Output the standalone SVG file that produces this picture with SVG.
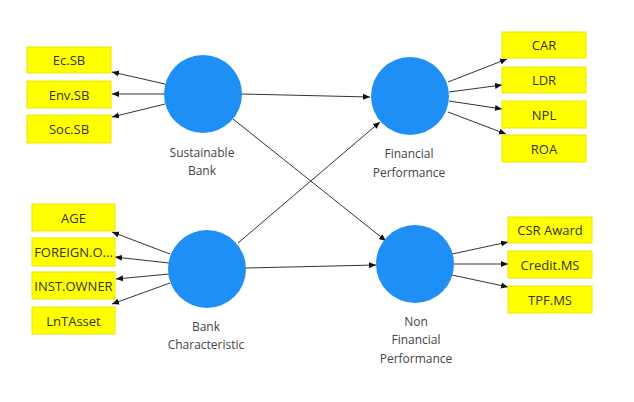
<svg xmlns="http://www.w3.org/2000/svg" width="634" height="402" viewBox="0 0 634 402">
<style>
.box{fill:#FFFF00;stroke:#E8E800;stroke-width:1}
.lv{fill:#1E8FF5}
.bt{font-family:"Open Sans","Noto Sans",sans-serif;font-size:13px;fill:#333;text-anchor:middle;dominant-baseline:central}
.lb{font-family:"Open Sans","Noto Sans",sans-serif;font-size:12px;fill:#444;text-anchor:middle;dominant-baseline:central}
.cn{stroke:#333;stroke-width:1;fill:none;marker-end:url(#ah)}
</style>
<defs>
<marker id="ah" markerWidth="8" markerHeight="8" refX="7" refY="4" orient="auto" markerUnits="userSpaceOnUse">
<path d="M0,1 L7,4 L0,7 Z" fill="#111"/>
</marker>
</defs>
<rect width="634" height="402" fill="#fff"/>
<g id="connectors">
<line class="cn" x1="165" y1="84" x2="112" y2="72"/>
<line class="cn" x1="164" y1="94" x2="112" y2="94"/>
<line class="cn" x1="165" y1="104" x2="112" y2="117"/>
<line class="cn" x1="170" y1="254" x2="112" y2="232"/>
<line class="cn" x1="169" y1="263" x2="115" y2="257"/>
<line class="cn" x1="169" y1="274" x2="116" y2="279"/>
<line class="cn" x1="170" y1="283" x2="112" y2="304"/>
<line class="cn" x1="242" y1="94" x2="370" y2="97"/>
<line class="cn" x1="233" y1="119" x2="386" y2="241"/>
<line class="cn" x1="238" y1="243" x2="380" y2="122"/>
<line class="cn" x1="246" y1="268" x2="376" y2="265"/>
<line class="cn" x1="448" y1="82" x2="507" y2="59"/>
<line class="cn" x1="449" y1="92" x2="502" y2="85"/>
<line class="cn" x1="449" y1="101" x2="502" y2="109"/>
<line class="cn" x1="448" y1="112" x2="506" y2="134"/>
<line class="cn" x1="452" y1="254" x2="508" y2="242"/>
<line class="cn" x1="454" y1="264" x2="508" y2="264"/>
<line class="cn" x1="452" y1="275" x2="508" y2="287"/>
</g>
<g id="sustainable-bank">
<circle class="lv" cx="203" cy="94" r="39"/>
<text class="lb" x="202" y="152">Sustainable</text>
<text class="lb" x="202" y="170">Bank</text>
</g>
<g id="bank-characteristic">
<circle class="lv" cx="207" cy="269" r="39"/>
<text class="lb" x="206" y="326">Bank</text>
<text class="lb" x="206" y="344">Characteristic</text>
</g>
<g id="financial-performance">
<circle class="lv" cx="410" cy="96" r="39"/>
<text class="lb" x="409" y="153">Financial</text>
<text class="lb" x="409" y="172">Performance</text>
</g>
<g id="non-financial-performance">
<circle class="lv" cx="415" cy="264" r="39"/>
<text class="lb" x="416" y="321">Non</text>
<text class="lb" x="416" y="339">Financial</text>
<text class="lb" x="416" y="358">Performance</text>
</g>
<g id="ec-sb"><rect class="box" x="27" y="47" width="84" height="26"/><text class="bt" x="69" y="60">Ec.SB</text></g>
<g id="env-sb"><rect class="box" x="27" y="81" width="84" height="27"/><text class="bt" x="69" y="94.5">Env.SB</text></g>
<g id="soc-sb"><rect class="box" x="27" y="115" width="84" height="28"/><text class="bt" x="69" y="129">Soc.SB</text></g>
<g id="age"><rect class="box" x="32" y="204" width="83" height="27"/><text class="bt" x="73.5" y="217.5">AGE</text></g>
<g id="foreign"><rect class="box" x="32" y="238" width="83" height="28"/><text class="bt" x="73.5" y="252">FOREIGN.O...</text></g>
<g id="inst-owner"><rect class="box" x="32" y="272" width="83" height="27"/><text class="bt" x="73.5" y="285.5">INST.OWNER</text></g>
<g id="lntasset"><rect class="box" x="32" y="307" width="83" height="27"/><text class="bt" x="73.5" y="320.5">LnTAsset</text></g>
<g id="car"><rect class="box" x="502" y="32" width="84" height="26"/><text class="bt" x="544" y="45">CAR</text></g>
<g id="ldr"><rect class="box" x="502" y="67" width="84" height="26"/><text class="bt" x="544" y="80">LDR</text></g>
<g id="npl"><rect class="box" x="502" y="101" width="84" height="27"/><text class="bt" x="544" y="114.5">NPL</text></g>
<g id="roa"><rect class="box" x="502" y="135" width="84" height="27"/><text class="bt" x="544" y="148.5">ROA</text></g>
<g id="csr-award"><rect class="box" x="508" y="217" width="84" height="26"/><text class="bt" x="550" y="230">CSR Award</text></g>
<g id="credit-ms"><rect class="box" x="508" y="251" width="84" height="27"/><text class="bt" x="550" y="264.5">Credit.MS</text></g>
<g id="tpf-ms"><rect class="box" x="508" y="286" width="84" height="27"/><text class="bt" x="550" y="299.5">TPF.MS</text></g>
</svg>
